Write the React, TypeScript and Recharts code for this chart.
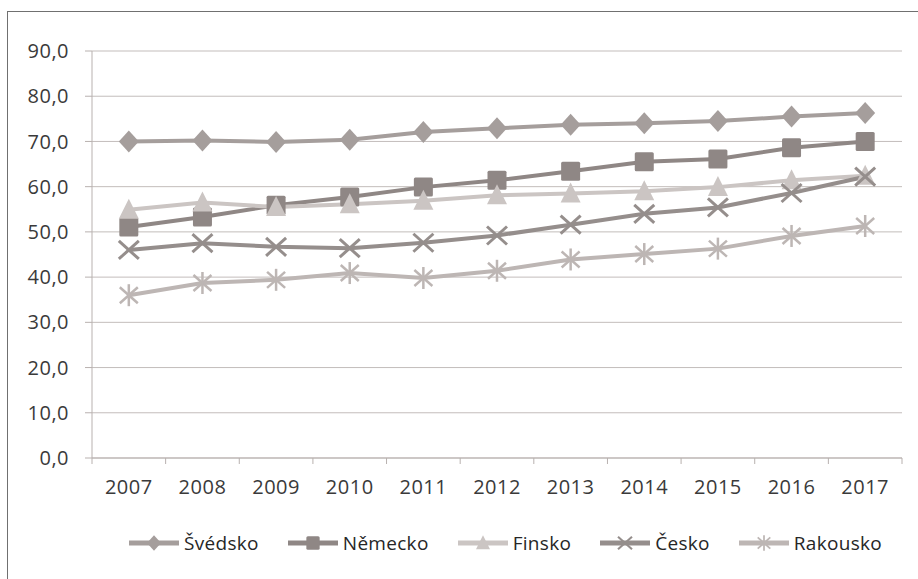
import React from "react";
import { LineChart, Line, XAxis, YAxis, CartesianGrid } from "recharts";

const years = ["2007", "2008", "2009", "2010", "2011", "2012", "2013", "2014", "2015", "2016", "2017"];
const svedsko = [70.0, 70.2, 69.9, 70.4, 72.1, 72.9, 73.7, 74.0, 74.5, 75.5, 76.3];
const nemecko = [51.1, 53.3, 55.9, 57.7, 59.9, 61.4, 63.4, 65.5, 66.1, 68.6, 70.0];
const finsko = [54.9, 56.5, 55.5, 56.1, 56.9, 58.1, 58.5, 59.0, 59.9, 61.4, 62.4];
const cesko = [46.0, 47.5, 46.7, 46.4, 47.6, 49.2, 51.6, 54.0, 55.4, 58.6, 62.2];
const rakousko = [36.0, 38.7, 39.4, 40.9, 39.8, 41.4, 43.9, 45.1, 46.3, 49.1, 51.3];
const yTicks = [0, 10, 20, 30, 40, 50, 60, 70, 80, 90];

const FONT = "'Open Sans', 'Liberation Sans', sans-serif";
const W = 918;
const H = 579;
const M = { top: 51, right: 16, bottom: 91, left: 0 };
const Y_W = 92;
const HALF = (W - M.right - M.left - Y_W) / years.length / 2;

type Marker = "diamond" | "square" | "triangle" | "x" | "star";

const series: { key: string; name: string; color: string; marker: Marker; values: number[] }[] = [
  { key: "sv", name: "Švédsko", color: "#a59e9c", marker: "diamond", values: svedsko },
  { key: "ne", name: "Německo", color: "#8f8785", marker: "square", values: nemecko },
  { key: "fi", name: "Finsko", color: "#cbc5c3", marker: "triangle", values: finsko },
  { key: "ce", name: "Česko", color: "#958e8c", marker: "x", values: cesko },
  { key: "ra", name: "Rakousko", color: "#bdb6b4", marker: "star", values: rakousko },
];

const data = years.map((y, i) => {
  const row: Record<string, string | number> = { year: y };
  series.forEach((s) => (row[s.key] = s.values[i]));
  return row;
});

function markerShape(kind: Marker, cx: number, cy: number, color: string, s = 1) {
  switch (kind) {
    case "diamond":
      return (
        <polygon
          points={`${cx},${cy - 11 * s} ${cx + 10 * s},${cy} ${cx},${cy + 11 * s} ${cx - 10 * s},${cy}`}
          fill={color}
        />
      );
    case "square":
      return <rect x={cx - 9.5 * s} y={cy - 9.5 * s} width={19 * s} height={19 * s} rx={1.5} fill={color} />;
    case "triangle":
      return (
        <polygon
          points={`${cx},${cy - 11 * s} ${cx + 10 * s},${cy + 9 * s} ${cx - 10 * s},${cy + 9 * s}`}
          fill={color}
        />
      );
    case "x":
      return (
        <g stroke={color} strokeWidth={3 * Math.max(s, 0.6)}>
          <line x1={cx - 10 * s} y1={cy - 9 * s} x2={cx + 10 * s} y2={cy + 9 * s} />
          <line x1={cx - 10 * s} y1={cy + 9 * s} x2={cx + 10 * s} y2={cy - 9 * s} />
        </g>
      );
    default:
      return (
        <g stroke={color} strokeWidth={2.5 * Math.max(s, 0.6)}>
          <line x1={cx - 9 * s} y1={cy - 8 * s} x2={cx + 9 * s} y2={cy + 8 * s} />
          <line x1={cx - 9 * s} y1={cy + 8 * s} x2={cx + 9 * s} y2={cy - 8 * s} />
          <line x1={cx} y1={cy - 11 * s} x2={cx} y2={cy + 11 * s} />
        </g>
      );
  }
}

const XTick = (props: any) => {
  const { x, y, payload, index } = props;
  return (
    <g>
      <line x1={x - HALF} y1={y} x2={x - HALF} y2={y + 6} stroke="#b8b1af" />
      {index === years.length - 1 && (
        <line x1={x + HALF} y1={y} x2={x + HALF} y2={y + 6} stroke="#b8b1af" />
      )}
      <text x={x} y={y + 36} textAnchor="middle" fill="#3a3a3a" fontSize={20} fontFamily={FONT} letterSpacing={0.5}>
        {payload.value}
      </text>
    </g>
  );
};

export default function App() {
  return (
    <div style={{ position: "absolute", left: 0, top: 0, width: W, height: H, background: "#fff", overflow: "hidden" }}>
      <div
        style={{
          position: "absolute",
          left: 7,
          top: 11,
          width: W,
          height: H,
          borderTop: "1px solid #707070",
          borderLeft: "1px solid #707070",
        }}
      />
      <LineChart width={W} height={H} data={data} margin={M} style={{ position: "absolute", left: 0, top: 0 }}>
        <CartesianGrid vertical={false} stroke="#c3bdbb" strokeWidth={1} />
        <XAxis
          dataKey="year"
          padding={{ left: HALF, right: HALF }}
          axisLine={{ stroke: "#b8b1af" }}
          tickLine={false}
          tickSize={0}
          tickMargin={0}
          height={30}
          interval={0}
          tick={<XTick />}
        />
        <YAxis
          width={Y_W}
          domain={[0, 90]}
          ticks={yTicks}
          tickFormatter={(v) => Number(v).toFixed(1).replace(".", ",")}
          axisLine={{ stroke: "#b8b1af" }}
          tickLine={{ stroke: "#b8b1af" }}
          tickSize={7}
          tickMargin={16}
          tick={{ fill: "#3a3a3a", fontSize: 20, fontFamily: FONT, letterSpacing: 0.5 }}
        />
        {series.map((s) => (
          <Line
            key={s.key}
            dataKey={s.key}
            name={s.name}
            type="linear"
            stroke={s.color}
            strokeWidth={4}
            isAnimationActive={false}
            dot={(p: any) => (
              <g key={`${s.key}-${p.index}`}>{markerShape(s.marker, p.cx, p.cy, s.color)}</g>
            )}
            activeDot={false}
          />
        ))}
      </LineChart>
      <div
        style={{
          position: "absolute",
          left: 129,
          top: 530,
          display: "flex",
          gap: 29,
          alignItems: "center",
          fontFamily: FONT,
          fontSize: 19,
          color: "#262626",
        }}
      >
        {series.map((s) => (
          <div key={s.key} style={{ display: "flex", alignItems: "center", gap: 5 }}>
            <svg width={50} height={24}>
              <line x1={0} y1={12} x2={50} y2={12} stroke={s.color} strokeWidth={5} />
              {markerShape(s.marker, 25, 12, s.color, 0.7)}
            </svg>
            <span style={{ letterSpacing: 0.3 }}>{s.name}</span>
          </div>
        ))}
      </div>
    </div>
  );
}
